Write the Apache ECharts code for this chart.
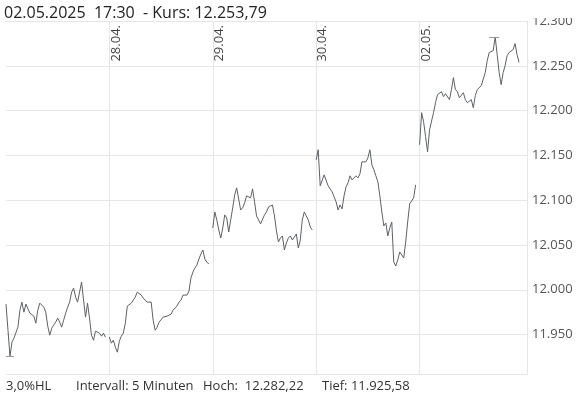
<!DOCTYPE html>
<html>
<head>
<meta charset="utf-8">
<script src="https://cdn.jsdelivr.net/npm/echarts@6/dist/echarts.min.js"></script>
<style>
  html, body { margin: 0; padding: 0; background: #fff; }
  #chart { width: 578px; height: 398px; }
</style>
</head>
<body>
<div id="chart"></div>
<script>
var days = ['25.04.', '28.04.', '29.04.', '30.04.', '02.05.'];

var kurs2504 = [11984.0, 11954.9, 11925.58, 11941.5, 11946.0, 11947.1, 11958.3, 11977.3, 11986.2, 11975.0,
    11984.0, 11986.2, 11973.9, 11971.7, 11970.6, 11962.7, 11977.3, 11985.1, 11984.0, 11980.6,
    11975.0, 11959.4, 11949.3, 11957.2, 11960.5, 11963.9, 11968.3, 11963.9, 11958.3, 11966.1,
    11973.9, 11980.6, 11986.2, 11997.4, 12001.9, 11991.8, 11986.2, 11997.4, 12008.6, 11988.5,
    11969.5, 11985.1, 11968.3, 11949.3, 11943.7, 11953.8, 11954.9, 11951.6, 11948.2, 11951.6,
    11947.1];
var kurs2804 = [11947.1, 11940.4, 11943.7, 11935.9, 11930.3, 11942.6, 11948.2, 11951.6, 11962.7, 11981.8,
    11981.8, 11985.1, 11986.2, 11991.8, 11997.4, 11997.4, 11994.1, 11990.7, 11988.5, 11986.2,
    11987.4, 11986.2, 11966.1, 11954.9, 11958.3, 11963.9, 11966.1, 11969.5, 11971.7, 11970.6,
    11970.6, 11972.8, 11977.3, 11979.5, 11981.8, 11986.2, 11988.5, 11994.1, 11996.3, 11994.1,
    11998.5, 12013.1, 12019.8, 12024.3, 12027.6, 12034.3, 12039.9, 12044.4, 12034.3, 12031.0,
    12028.7];
var kurs2904 = [12069.0, 12086.9, 12078.0, 12066.8, 12057.8, 12069.0, 12083.6, 12080.2, 12064.5, 12078.0,
    12091.4, 12105.9, 12113.8, 12114.9, 12089.1, 12091.4, 12097.0, 12104.8, 12102.6, 12102.6,
    12112.6, 12098.1, 12082.4, 12080.2, 12073.5, 12075.7, 12083.6, 12086.9, 12092.5, 12093.6,
    12094.7, 12082.4, 12065.7, 12053.3, 12057.8, 12060.1, 12044.4, 12052.2, 12057.8, 12060.1,
    12055.6, 12054.5, 12062.3, 12046.6, 12055.6, 12078.0, 12086.9, 12088.0, 12078.0, 12070.1,
    12066.8];
var kurs3004 = [12145.1, 12156.3, 12116.0, 12118.2, 12128.3, 12126.1, 12116.0, 12114.9, 12109.3, 12103.7,
    12098.1, 12089.1, 12094.7, 12090.3, 12104.8, 12114.9, 12119.4, 12127.2, 12122.7, 12121.6,
    12127.2, 12124.9, 12129.4, 12142.8, 12140.6, 12142.8, 12147.3, 12156.3, 12139.5, 12133.9,
    12127.2, 12120.5, 12104.8, 12086.9, 12071.3, 12074.6, 12060.1, 12069.0, 12075.7, 12031.0,
    12026.5, 12033.2, 12042.2, 12044.4, 12035.5, 12053.3, 12075.7, 12095.9, 12099.2, 12102.6,
    12117.1];
var kurs0205 = [12161.9, 12197.7, 12187.6, 12170.8, 12154.0, 12178.6, 12178.6, 12197.7, 12208.8, 12217.8,
    12216.7, 12221.1, 12215.5, 12218.9, 12220.0, 12212.2, 12223.4, 12236.8, 12223.4, 12221.1,
    12214.4, 12212.2, 12220.0, 12212.2, 12208.8, 12210.0, 12212.2, 12203.2, 12216.7, 12223.4,
    12224.5, 12227.9, 12230.1, 12242.4, 12255.8, 12264.8, 12265.9, 12267.0, 12282.22, 12262.5,
    12242.4, 12229.0, 12242.4, 12250.2, 12261.4, 12264.8, 12265.9, 12268.1, 12274.8, 12262.5,
    12253.79];

var hoch = 12282.22;
var tief = 11925.58;
var yTicks = [11950, 12000, 12050, 12100, 12150, 12200, 12250, 12300];

var slotsPerDay = 52;

// Kategorien: ein Slot pro Messpunkt, Tage hintereinander
var categories = [];
days.forEach(function (d) {
    for (var i = 0; i < slotsPerDay; i++) {
        var m = 9 * 60 + i * 10;
        categories.push(d + ' ' + String(Math.floor(m / 60)).padStart(2, '0') + ':' + String(m % 60).padStart(2, '0'));
    }
});
for (var k = 0; k < 3; k++) categories.push('02.05. ~' + k);

var seriesData = [].concat(kurs2504, [null], kurs2804, [null], kurs2904, [null], kurs3004, [null], kurs0205);
var highIdx = seriesData.indexOf(hoch);
var lowIdx = seriesData.indexOf(tief);

function fmt(v) {
    return Math.floor(v / 1000) + '.' + String(v % 1000).padStart(3, '0');
}

function isDayStart(idx) {
    return idx > 0 && idx % slotsPerDay === 0 && idx < days.length * slotsPerDay;
}

var myChart = echarts.init(document.getElementById('chart'));
var option = {
    animation: false,
    grid: { left: 6, right: 51, top: 21, bottom: 24, outerBoundsMode: 'none', containLabel: false },
    xAxis: {
        type: 'category',
        position: 'top',
        boundaryGap: false,
        data: categories,
        axisLine: { show: true, lineStyle: { color: '#e6e6e6' } },
        axisTick: { show: false },
        axisLabel: {
            inside: true,
            rotate: -90,
            align: 'right',
            verticalAlign: 'top',
            margin: 4,
            interval: isDayStart,
            color: '#444',
            fontFamily: 'Open Sans',
            fontSize: 13,
            formatter: function (v) { return v.split(' ')[0]; }
        },
        splitLine: { show: true, interval: isDayStart, lineStyle: { color: '#e6e6e6' } }
    },
    yAxis: {
        type: 'value',
        position: 'right',
        min: 11906,
        max: 12300,
        minInterval: 50,
        maxInterval: 50,
        axisLine: { show: true, lineStyle: { color: '#e6e6e6' } },
        axisTick: { show: false },
        axisLabel: {
            margin: 5,
            color: '#555',
            fontFamily: 'Open Sans',
            fontSize: 13,
            formatter: function (v) { return yTicks.indexOf(v) >= 0 ? fmt(v) : ''; }
        },
        splitLine: { lineStyle: { color: '#e6e6e6' } }
    },
    series: [{
        type: 'line',
        data: seriesData,
        showSymbol: false,
        connectNulls: false,
        lineStyle: { color: '#5c6166', width: 1 },
        markLine: {
            silent: true,
            symbol: 'none',
            label: { show: false },
            lineStyle: { color: '#999', width: 1, type: 'solid' },
            data: [
                [{ coord: [highIdx - 3, hoch] }, { coord: [highIdx + 2, hoch] }],
                [{ coord: [lowIdx - 2, tief] }, { coord: [lowIdx + 2, tief] }]
            ]
        }
    }],
    graphic: [
        { type: 'rect', left: 0, top: 0, shape: { width: 578, height: 18 }, style: { fill: '#fff' }, z: 50 },
        { type: 'text', x: 4, y: 13, z: 60, style: { text: '02.05.2025  17:30  - Kurs: 12.253,79', font: '16px "Open Sans"', fill: '#222', verticalAlign: 'middle' } },
        { type: 'text', x: 6, y: 386, style: { text: '3,0%HL', font: '13px "Open Sans"', fill: '#333', verticalAlign: 'middle' } },
        { type: 'text', x: 76, y: 386, style: { text: 'Intervall: 5 Minuten', font: '13px "Open Sans"', fill: '#333', verticalAlign: 'middle' } },
        { type: 'text', x: 203, y: 386, style: { text: 'Hoch:  12.282,22', font: '13px "Open Sans"', fill: '#333', verticalAlign: 'middle' } },
        { type: 'text', x: 322, y: 386, style: { text: 'Tief: 11.925,58', font: '13px "Open Sans"', fill: '#333', verticalAlign: 'middle' } }
    ]
};
myChart.setOption(option);
</script>
</body>
</html>
